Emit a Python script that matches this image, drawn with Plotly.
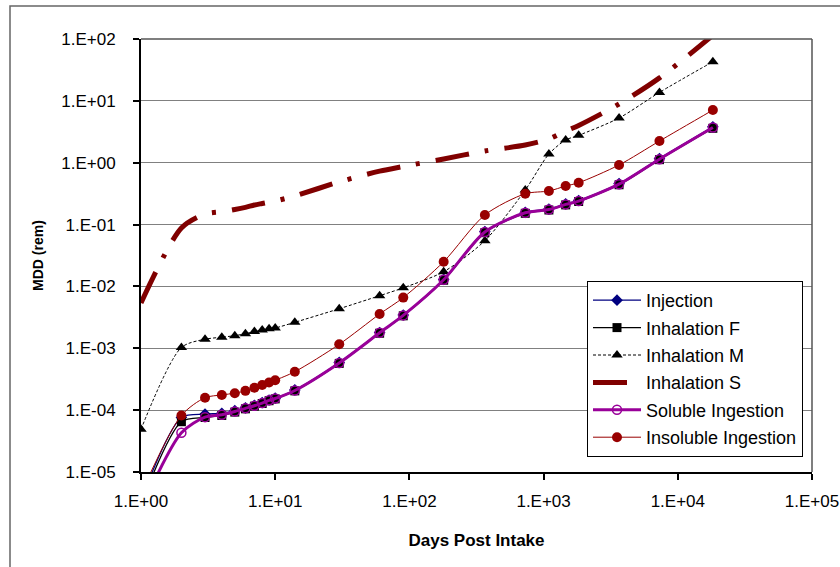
import plotly.graph_objects as go

days = [1, 2, 3, 4, 5, 6, 7, 8, 9, 10, 14, 30, 60, 90, 180, 365, 730, 1095, 1460, 1825, 3650, 7300, 18250]

injection = [3.5e-6, 7.6e-5, 8.6e-5, 8.9e-5, 9.8e-5, 1.09e-4, 1.2e-4, 1.32e-4, 1.46e-4, 1.56e-4, 2.12e-4,
             5.9e-4, 1.8e-3, 3.45e-3, 1.3e-2, 7.7e-2, 0.157, 0.178, 0.216, 0.245, 0.46, 1.17, 3.8]
inhalation_f = [3.0e-6, 6.5e-5, 7.6e-5, 8.2e-5, 9.3e-5, 1.05e-4, 1.16e-4, 1.28e-4, 1.42e-4, 1.52e-4, 2.05e-4,
                5.7e-4, 1.75e-3, 3.35e-3, 1.26e-2, 7.4e-2, 0.152, 0.172, 0.208, 0.236, 0.44, 1.12, 3.6]
inhalation_m = [4.9e-5, 1.03e-3, 1.4e-3, 1.51e-3, 1.6e-3, 1.72e-3, 1.86e-3, 1.97e-3, 2.07e-3, 2.13e-3, 2.63e-3,
                4.36e-3, 7.08e-3, 9.5e-3, 1.73e-2, 5.5e-2, 0.362, 1.38, 2.33, 2.77, 5.28, 13.7, 42.9]
inhalation_s = [5.4e-3, 0.088, 0.148, 0.161, 0.175, 0.19, 0.207, 0.219, 0.23, 0.24, 0.29,
                0.49, 0.73, 0.87, 1.15, 1.55, 1.93, 2.42, 3.26, 4.0, 8.9, 23.5, 115]
soluble_ing = [2.5e-6, 4.3e-5, 7.7e-5, 8.4e-5, 9.5e-5, 1.07e-4, 1.18e-4, 1.3e-4, 1.44e-4, 1.54e-4, 2.08e-4,
               5.8e-4, 1.78e-3, 3.4e-3, 1.28e-2, 7.6e-2, 0.155, 0.175, 0.212, 0.24, 0.45, 1.14, 3.7]
insoluble_ing = [4.5e-6, 8.2e-5, 1.59e-4, 1.76e-4, 1.88e-4, 2.05e-4, 2.3e-4, 2.55e-4, 2.8e-4, 3.05e-4, 4.18e-4,
                 1.16e-3, 3.58e-3, 6.6e-3, 2.51e-2, 0.143, 0.315, 0.349, 0.42, 0.475, 0.92, 2.24, 7.1]

x_tickvals = [1, 10, 100, 1000, 10000, 100000]
x_ticktext = ["1.E+00", "1.E+01", "1.E+02", "1.E+03", "1.E+04", "1.E+05"]
y_tickvals = [1e-5, 1e-4, 1e-3, 1e-2, 1e-1, 1, 10, 100]
y_ticktext = ["1.E-05", "1.E-04", "1.E-03", "1.E-02", "1.E-01", "1.E+00", "1.E+01", "1.E+02"]

FONT = "Arial, Liberation Sans, sans-serif"

fig = go.Figure()

def add(name, y, color, width, dash, symbol, msize, mline=None):
    fig.add_trace(go.Scatter(
        x=days, y=y, name=name, legendgroup=name,
        mode="lines+markers" if symbol else "lines",
        line=dict(color=color, width=width, dash=dash, shape="spline", smoothing=0.8),
        marker=dict(symbol=symbol or "circle", size=msize, color=color,
                    line=dict(color=color, width=mline if mline else 0)),
        cliponaxis=True,
    ))

add("Injection", injection, "#000080", 1.3, "solid", "diamond", 9)
add("Inhalation F", inhalation_f, "#000000", 1.3, "solid", "square", 9)
add("Inhalation M", inhalation_m, "#000000", 1, "3px,2px", "triangle-up", 10)
add("Inhalation S", inhalation_s, "#800000", 5, "34px,16px,4px,16px", None, 0)
add("Soluble Ingestion", soluble_ing, "#990099", 3, "solid", "circle-open", 9, mline=1.5)
add("Insoluble Ingestion", insoluble_ing, "#990000", 1, "solid", "circle", 10)

L, R, T, B = 141, 812, 39, 472
W, H = 840, 567
pw, ph = R - L, B - T

def px(xp):
    return (xp - L) / pw

def py(yp):
    return (B - yp) / ph

fig.update_layout(
    width=W, height=H,
    margin=dict(l=L, r=W - R, t=T, b=H - B, autoexpand=False),
    paper_bgcolor="white", plot_bgcolor="white",
    font=dict(family=FONT, color="black"),
    showlegend=True,
    legend=dict(
        x=px(587), y=py(281), xanchor="left", yanchor="top",
        bordercolor="black", borderwidth=1, bgcolor="white",
        font=dict(size=18, family=FONT), tracegroupgap=1,
        traceorder="grouped", itemwidth=48,
    ),
    xaxis=dict(
        type="log", range=[0, 5], tickvals=x_tickvals, ticktext=x_ticktext,
        ticks="outside", ticklen=6, tickcolor="black", tickwidth=1.5,
        showline=True, linecolor="black", linewidth=2, showgrid=False, zeroline=False,
        tickfont=dict(size=17, family=FONT), ticklabelstandoff=7, automargin=False,
        title=dict(text="<b>Days Post Intake</b>", font=dict(size=17, family=FONT), standoff=24),
    ),
    yaxis=dict(
        type="log", range=[-5, 2], tickvals=y_tickvals, ticktext=y_ticktext,
        ticks="outside", ticklen=6, tickcolor="black", tickwidth=1.5,
        showline=True, linecolor="black", linewidth=2,
        showgrid=True, gridcolor="#808080", gridwidth=1, zeroline=False,
        tickfont=dict(size=17, family=FONT), ticklabelstandoff=14, automargin=False,
        title=dict(text="<b>MDD (rem)</b>", font=dict(size=14, family=FONT), standoff=14),
    ),
    shapes=[
        dict(type="line", xref="paper", yref="paper", x0=0, x1=1, y0=1, y1=1,
             line=dict(color="#555555", width=1.5)),
        dict(type="line", xref="paper", yref="paper", x0=1, x1=1, y0=0, y1=1,
             line=dict(color="#555555", width=1.5)),
        dict(type="rect", xref="paper", yref="paper", x0=px(10), x1=px(850), y0=py(575), y1=py(6),
             line=dict(color="#666666", width=1.5), fillcolor="rgba(0,0,0,0)"),
    ],
)

fig.write_html("out.html", config={"displayModeBar": False},
               post_script="document.body.style.margin='0';")
